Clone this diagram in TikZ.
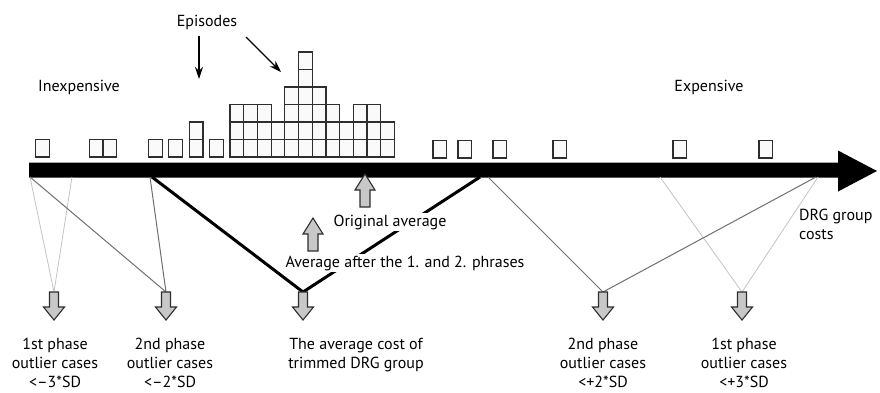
\documentclass[tikz,border=0pt]{standalone}
\usepackage{fontspec}
\setmainfont{PT Sans}
\usetikzlibrary{arrows.meta}
\definecolor{boxfill}{HTML}{FAFAFA}
\definecolor{boxline}{HTML}{2E2E2E}
\definecolor{lightline}{HTML}{C4C4C4}
\definecolor{midline}{HTML}{707070}
\definecolor{arrfill}{HTML}{C8C8C8}
\tikzset{
  ep/.style={draw=boxline, fill=boxfill, line width=1.2pt},
  lbl/.style={font=\fontsize{16}{19}\selectfont, text=black, inner sep=1pt},
  captxt/.style={lbl, align=center, inner sep=0pt},
  lightc/.style={draw=lightline, line width=0.8pt},
  midc/.style={draw=midline, line width=1pt},
  boldc/.style={draw=black, line width=3pt},
  blockarr/.style={draw=boxline, fill=arrfill, line width=1.1pt, line join=miter},
  downarr/.pic={\path[blockarr] (-4.5,0) -- (4.5,0) -- (4.5,15) -- (10.5,15) -- (0,28) -- (-10.5,15) -- (-4.5,15) -- cycle;},
  uparr/.pic={\path[blockarr] (0,0) -- (10,16) -- (5,16) -- (5,33) -- (-5,33) -- (-5,16) -- (-10,16) -- cycle;},
  pointer/.style={-{Stealth[length=12pt,width=8pt]}, line width=1.3pt}
}
\newcommand{\epbox}[2]{\path[ep] (#1,#2) rectangle ++(13.7,-17.5);}
\begin{document}
\begin{tikzpicture}[x=1pt,y=-1pt]
\useasboundingbox (0,0) rectangle (880,392);
\fill[white] (0,0) rectangle (880,392);

% cost axis
\fill[black] (29,162.5) -- (838,162.5) -- (838,150.5) -- (877,171) -- (838,191.5) -- (838,177.5) -- (29,177.5) -- cycle;

% isolated episodes on the cheap side
\foreach \x in {35.5, 89.3, 103, 148.5, 168.8, 189.2, 209.5} {\epbox{\x}{157}}
\epbox{189.2}{139.5}

% main block of episodes
\foreach \c in {0,...,11} {
  \epbox{230+13.7*\c}{157}
  \epbox{230+13.7*\c}{139.5}
}
\foreach \c in {0,1,2,4,5,6,7,9,10} {\epbox{230+13.7*\c}{122}}
\foreach \c in {4,5,6} {\epbox{230+13.7*\c}{104.5}}
\epbox{230+13.7*5}{87}
\epbox{230+13.7*5}{69.5}

% isolated episodes on the expensive side
\foreach \x in {433, 458, 493, 553, 673, 759} {\epbox{\x}{158}}

% headings
\node[lbl] (episodes) at (207,22) {Episodes};
\node[lbl] (cheap) at (79,87) {Inexpensive};
\node[lbl] (dear) at (709,87) {Expensive};
\coordinate (e1s) at (199,36);
\coordinate (e1e) at (199,79);
\coordinate (e2s) at (246,37);
\coordinate (e2e) at (281,72);
\draw[pointer] (e1s) -- (e1e);
\draw[pointer] (e2s) -- (e2e);

% points on the axis
\coordinate (a1) at (30,177);
\coordinate (a2) at (72,177);
\coordinate (a3) at (150,177);
\coordinate (a4) at (152,177);
\coordinate (a5) at (480,177);
\coordinate (a6) at (488,177);
\coordinate (a7) at (660,177);
\coordinate (a8) at (816,177);
\coordinate (a9) at (818,177);

% tops of the outcome arrows
\coordinate (p1) at (54,292);
\coordinate (p2) at (166,292);
\coordinate (p3) at (303,292);
\coordinate (p4) at (603,292);
\coordinate (p5) at (742,292);

% trimming lines
\draw[lightc] (a1) -- (p1) -- (a2);
\draw[lightc] (a7) -- (p5) -- (a9);
\draw[midc] (a1) -- (p2) -- (a3);
\draw[midc] (a6) -- (p4) -- (a8);
\draw[boldc] (a4) -- (p3) -- (a5);

% averages
\pic at (365,174) {uparr};
\pic at (313,218) {uparr};
\node[lbl, fill=white, inner sep=2pt] (orig) at (390,222) {Original average};
\node[lbl, fill=white, inner sep=2pt] (after) at (405,263) {Average after the 1. and 2. phrases};
\node[lbl, align=left, anchor=west] (drg) at (798,224) {DRG group\\costs};

% outcome arrows and captions
\foreach \p in {p1,p2,p3,p4,p5} {\pic at (\p) {downarr};}
\node[captxt] (o1) at (55,363) {1st phase\\outlier cases\\<–3*SD};
\node[captxt] (o2) at (170,363) {2nd phase\\outlier cases\\<–2*SD};
\node[captxt] (o3) at (356,355) {The average cost of\\trimmed DRG group};
\node[captxt] (o4) at (603,363) {2nd phase\\outlier cases\\<+2*SD};
\node[captxt] (o5) at (744,363) {1st phase\\outlier cases\\<+3*SD};
\end{tikzpicture}
\end{document}
